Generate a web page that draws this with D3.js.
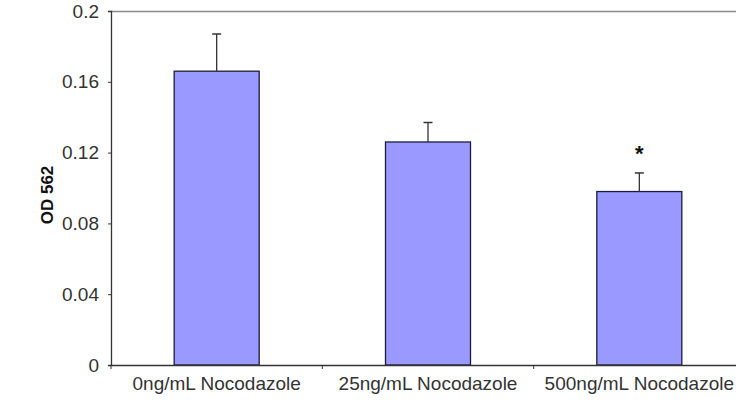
<!DOCTYPE html>
<html>
<head>
<meta charset="utf-8">
<script src="https://cdn.jsdelivr.net/npm/d3@7"></script>
<style>
  html, body { margin: 0; padding: 0; background: #fff; }
  svg { display: block; }
  text { font-family: "Liberation Sans", Arial, sans-serif; }
</style>
</head>
<body>
<svg id="chart" width="736" height="410"></svg>
<script>
const categories = ["0ng/mL Nocodazole", "25ng/mL Nocodazole", "500ng/mL Nocodazole"];
const means = [0.166, 0.126, 0.098];
const errors = [0.021, 0.011, 0.0105];
const significance = ["", "", "*"];
const yTicks = [0, 0.04, 0.08, 0.12, 0.16, 0.2];
const yTickLabels = ["0", "0.04", "0.08", "0.12", "0.16", "0.2"];
const yTitle = "OD 562";

(function () {
const svg = d3.select("#chart");
const mLeft = 111, mRight = 745, mTop = 11, mBottom = 365;

const x = d3.scaleBand().domain(categories).range([mLeft, mRight]).paddingInner(0).paddingOuter(0);
const y = d3.scaleLinear().domain([0, 0.2]).range([mBottom, mTop]);
const barW = 85;

// plot area frame (top edge visible)
svg.append("line")
  .attr("x1", mLeft).attr("x2", mRight)
  .attr("y1", mTop + 0.5).attr("y2", mTop + 0.5)
  .attr("stroke", "#8a8a8a").attr("stroke-width", 1.5);

// bars
const g = svg.append("g");
g.selectAll("rect.bar").data(categories).enter().append("rect")
  .attr("class", "bar")
  .attr("x", d => x(d) + x.bandwidth() / 2 - barW / 2)
  .attr("width", barW)
  .attr("y", (d, i) => y(means[i]))
  .attr("height", (d, i) => y(0) - y(means[i]))
  .attr("fill", "#9999ff")
  .attr("stroke", "#1c1c3c")
  .attr("stroke-width", 1.3);

// error bars
categories.forEach((c, i) => {
  const cx = x(c) + x.bandwidth() / 2;
  g.append("line")
    .attr("x1", cx).attr("x2", cx)
    .attr("y1", y(means[i])).attr("y2", y(means[i] + errors[i]))
    .attr("stroke", "#333").attr("stroke-width", 1.3);
  g.append("line")
    .attr("x1", cx - 4.5).attr("x2", cx + 4.5)
    .attr("y1", y(means[i] + errors[i])).attr("y2", y(means[i] + errors[i]))
    .attr("stroke", "#333").attr("stroke-width", 1.5);
  if (significance[i]) {
    g.append("text")
      .attr("x", cx).attr("y", y(means[i] + errors[i]) - 12)
      .attr("text-anchor", "middle")
      .attr("font-size", 22).attr("font-weight", "bold")
      .attr("fill", "#111")
      .text(significance[i]);
  }
});

// y axis
const yAxis = d3.axisLeft(y).tickValues(yTicks)
  .tickFormat((d, i) => yTickLabels[i]).tickSize(3).tickPadding(9);
const ya = svg.append("g").attr("transform", `translate(${mLeft},0)`).call(yAxis);
ya.select(".domain").attr("stroke", "#333").attr("stroke-width", 1.3);
ya.selectAll(".tick line").attr("stroke", "#333");
ya.selectAll(".tick text").attr("font-size", 19).attr("fill", "#333")
  .attr("font-family", "'Liberation Sans', Arial, sans-serif");

// x axis
const xAxis = d3.axisBottom(x).tickSize(0).tickPadding(12);
const xa = svg.append("g").attr("transform", `translate(0,${mBottom})`).call(xAxis);
xa.select(".domain").attr("stroke", "#333").attr("stroke-width", 1.3);
xa.selectAll(".tick text").attr("font-size", 19).attr("fill", "#333")
  .attr("font-family", "'Liberation Sans', Arial, sans-serif");
// category separator ticks
const sepPos = x.domain().map(d => x(d)).concat([mRight]);
xa.selectAll("line.sep").data(sepPos).enter().append("line")
  .attr("class", "sep")
  .attr("x1", d => d).attr("x2", d => d)
  .attr("y1", 0).attr("y2", 4)
  .attr("stroke", "#333");

// y title
svg.append("text")
  .attr("transform", "translate(53,195) rotate(-90)")
  .attr("text-anchor", "middle")
  .attr("font-size", 17).attr("font-weight", "bold")
  .attr("fill", "#111")
  .text(yTitle);
})();
</script>
</body>
</html>
